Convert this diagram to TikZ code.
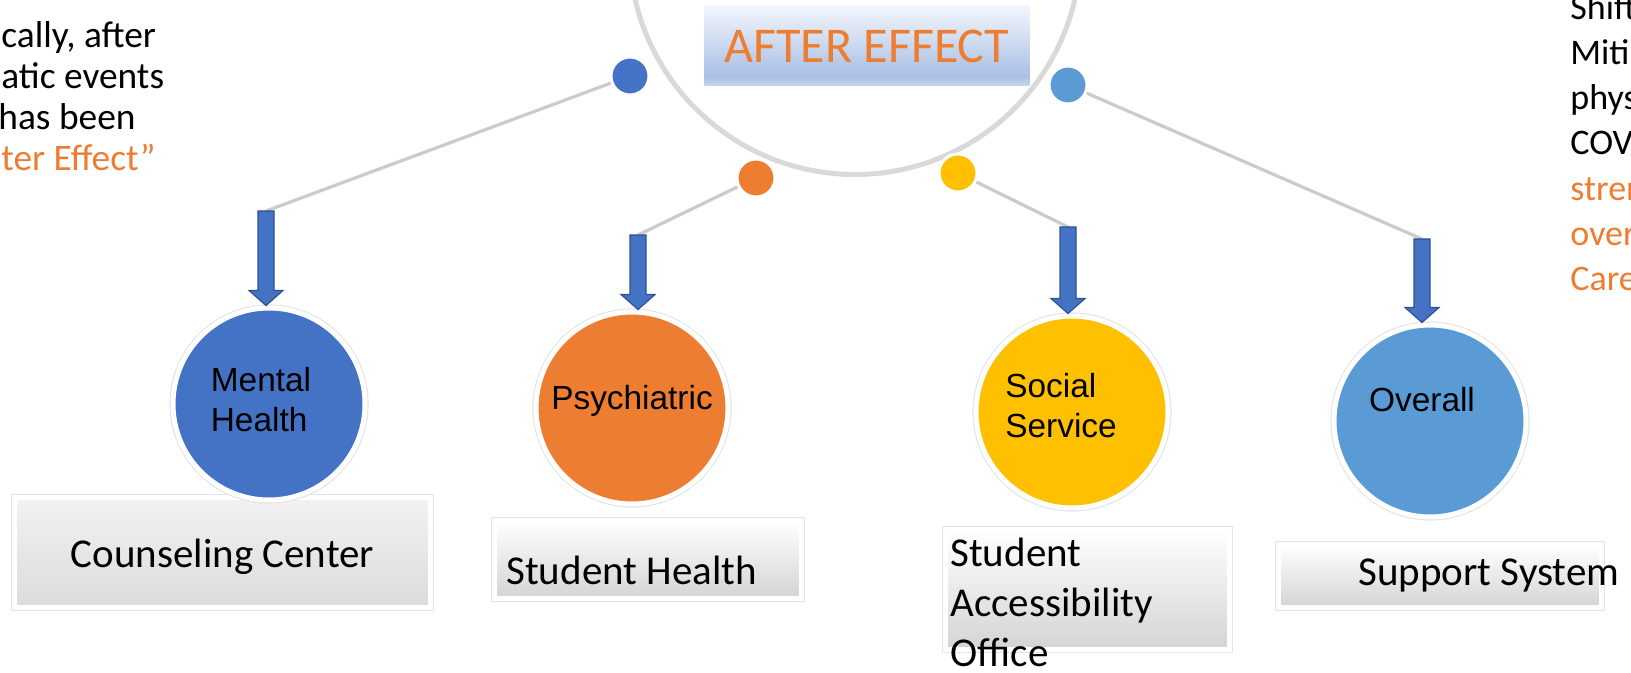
\documentclass[tikz,border=0pt]{standalone}
\usepackage{fontspec}
\setmainfont{Carlito}
\newfontfamily\arialfont{Liberation Sans}
\usetikzlibrary{calc,shadows}
\definecolor{mhblue}{HTML}{4472C4}
\definecolor{psorange}{HTML}{ED7D31}
\definecolor{ssyellow}{HTML}{FFC000}
\definecolor{ovblue}{HTML}{5B9BD5}
\definecolor{arrowedge}{HTML}{2F528F}
\definecolor{arcgray}{HTML}{D9D9D9}
\definecolor{linegray}{HTML}{CBCBCB}
\definecolor{boxgray}{HTML}{D4D4D4}
\definecolor{rimgray}{HTML}{E4E4E4}
\definecolor{aetop}{HTML}{F3F6FC}
\definecolor{aemid}{HTML}{A9BFE4}
\definecolor{aebot}{HTML}{C9D6EF}
\pgfdeclareverticalshading{titleshade}{100bp}{color(0bp)=(aebot); color(25bp)=(aebot); color(31bp)=(aemid); color(75bp)=(aetop); color(100bp)=(aetop)}
\newcommand{\blockarrow}[2]{%
  \draw[blockarr] let \p1=(#1), \p2=(#2.north) in
    (\x1-4pt,\y1) -- (\x1-4pt,\y2+7.5pt) -- (\x1-8.5pt,\y2+7.5pt) -- (\x1,\y2)
    -- (\x1+8.5pt,\y2+7.5pt) -- (\x1+4pt,\y2+7.5pt) -- (\x1+4pt,\y1) -- cycle;}
\begin{document}
\begin{tikzpicture}[x=0.5pt, y=-0.5pt,
  hub/.style={circle, draw=arcgray, line width=2.5pt, minimum size=225.5pt, inner sep=0},
  title/.style={rectangle, shading=titleshade, minimum width=162.5pt, minimum height=40pt, inner sep=0, text=psorange, font=\fontsize{25}{30}\selectfont},
  dot/.style={circle, draw=white, line width=1.5pt, minimum size=19pt, inner sep=0},
  bigcirc/.style={circle, draw=white, line width=2.5pt, minimum size=96pt, inner sep=0, preaction={draw=rimgray, line width=3.6pt}, drop shadow={opacity=0.15, shadow xshift=0pt, shadow yshift=-1.2pt}},
  circtext/.style={font=\arialfont\fontsize{16.7}{20}\selectfont, align=left, inner sep=0},
  link/.style={draw=linegray, line width=1.6pt},
  blockarr/.style={fill=mhblue, draw=arrowedge, line width=0.6pt},
  infobox/.style={rectangle, draw=white, line width=2.5pt, top color=white, bottom color=boxgray, inner sep=0, preaction={draw=rimgray, line width=3.4pt}, drop shadow={opacity=0.15, shadow xshift=0.5pt, shadow yshift=-1.2pt}},
  boxtext/.style={font=\fontsize{20.5}{25}\selectfont, align=left, inner sep=0},
  note/.style={font=\fontsize{18.7}{20.6}\selectfont, align=left, inner sep=0}]
\useasboundingbox (0,0) rectangle (1631,673);
\node[hub] (hub) at (855,-51) {};
\node[title] (ae) at (867,46) {AFTER EFFECT};
\node[dot, fill=mhblue] (d1) at (630,76) {};
\node[dot, fill=psorange] (d2) at (756,178) {};
\node[dot, fill=ssyellow] (d3) at (958,173) {};
\node[dot, fill=ovblue] (d4) at (1068,85) {};
\coordinate (t1) at (266,211);
\coordinate (t2) at (638,235);
\coordinate (t3) at (1068,227);
\coordinate (t4) at (1422,239);
\draw[link] (d1) -- (t1);
\draw[link] (d2) -- (t2);
\draw[link] (d3) -- (t3);
\draw[link] (d4) -- (t4);
\node[infobox, top color=gray!10, bottom color=gray!28, minimum width=208pt, minimum height=55pt] (cc) at (222.5,552.5) {};
\node[infobox, minimum width=153.5pt, minimum height=39pt] (sh) at (648,559.5) {};
\node[infobox, minimum width=142pt, minimum height=60pt] (sao) at (1087.5,589.5) {};
\node[infobox, minimum width=161.5pt, minimum height=31.5pt] (sup) at (1440,576) {};
\node[bigcirc, fill=mhblue] (mh) at (269,404) {};
\node[bigcirc, fill=psorange] (ps) at (632,408) {};
\node[bigcirc, fill=ssyellow] (ss) at (1072,412) {};
\node[bigcirc, fill=ovblue] (ov) at (1430,421) {};
\node[circtext] (mht) at (261,400) {Mental\\Health};
\node[circtext] (pst) at (632,401) {Psychiatric};
\node[circtext] (sst) at (1061,406) {Social\\Service};
\node[circtext] (ovt) at (1422,400) {Overall};
\blockarrow{t1}{mh}
\blockarrow{t2}{ps}
\blockarrow{t3}{ss}
\blockarrow{t4}{ov}
\node[boxtext, anchor=base] (cct) at (222.5,567) {Counseling Center};
\node[boxtext, anchor=base west] (sht) at (506,584) {Student Health};
\node[boxtext, anchor=north west] (saot) at (950,538) {Student\\Accessibility\\Office};
\node[boxtext, anchor=base west] (supt) at (1358,585) {Support System};
\node[note, anchor=north west] (left) at (1,21) {cally, after\\atic events\\\hspace*{-1.5pt}has been\\\textcolor{psorange}{ter Effect”}};
\node[note, font=\fontsize{18}{22.6}\selectfont, anchor=north west] (right) at (1570,-6) {Shift\\Miti\\phys\\COV\\\textcolor{psorange}{stren}\\\textcolor{psorange}{over}\\\textcolor{psorange}{Care}};
\end{tikzpicture}
\end{document}
